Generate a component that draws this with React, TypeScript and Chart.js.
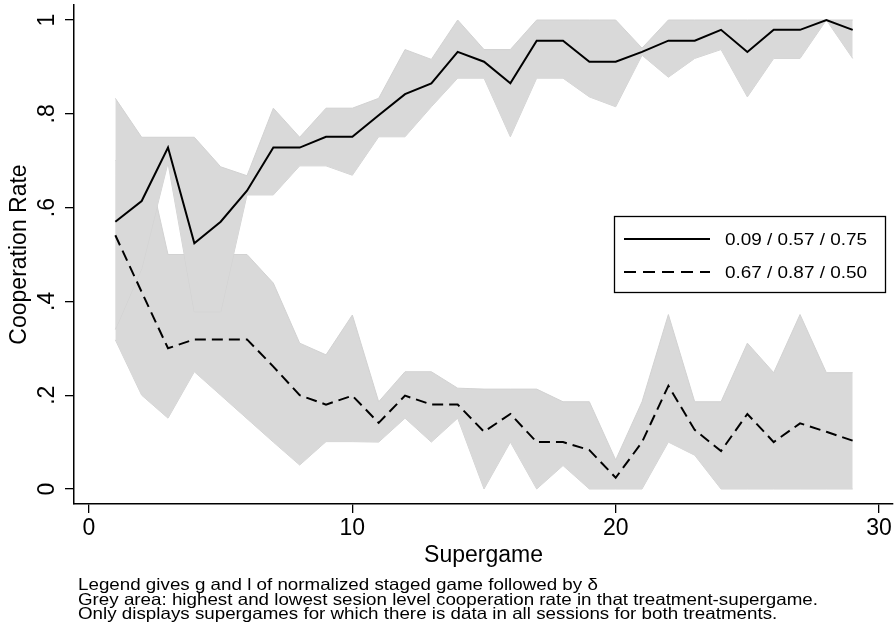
import React, { useEffect, useRef } from 'react';
import { Chart, registerables } from 'chart.js';

Chart.register(...registerables);

const supergames = [1, 2, 3, 4, 5, 6, 7, 8, 9, 10, 11, 12, 13, 14, 15, 16, 17, 18, 19, 20, 21, 22, 23, 24, 25, 26, 27, 28, 29];

const solidMean = [0.570, 0.614, 0.728, 0.524, 0.570, 0.636, 0.728, 0.728, 0.751, 0.751, 0.797, 0.842, 0.865, 0.932, 0.911, 0.865, 0.956, 0.956, 0.911, 0.911, 0.932, 0.956, 0.956, 0.979, 0.932, 0.979, 0.979, 1.0, 0.979];
const solidMax = [0.833, 0.75, 0.75, 0.75, 0.687, 0.668, 0.812, 0.75, 0.812, 0.812, 0.833, 0.937, 0.916, 1.0, 0.937, 0.937, 1.0, 1.0, 1.0, 1.0, 0.94, 1.0, 1.0, 1.0, 1.0, 1.0, 1.0, 1.0, 1.0];
const solidMin = [0.34, 0.47, 0.695, 0.378, 0.378, 0.627, 0.627, 0.689, 0.689, 0.669, 0.751, 0.751, 0.815, 0.876, 0.876, 0.751, 0.876, 0.876, 0.836, 0.815, 0.925, 0.878, 0.918, 0.937, 0.836, 0.918, 0.918, 1.0, 0.918];

const dashedMean = [0.541, 0.42, 0.30, 0.319, 0.319, 0.319, 0.261, 0.2, 0.18, 0.199, 0.141, 0.199, 0.18, 0.18, 0.122, 0.16, 0.1, 0.1, 0.083, 0.024, 0.1, 0.22, 0.126, 0.081, 0.16, 0.1, 0.14, 0.122, 0.103];
const dashedMax = [0.70, 0.75, 0.5, 0.5, 0.5, 0.5, 0.439, 0.311, 0.286, 0.371, 0.186, 0.25, 0.25, 0.215, 0.213, 0.213, 0.213, 0.186, 0.186, 0.062, 0.186, 0.372, 0.186, 0.186, 0.311, 0.248, 0.372, 0.248, 0.248];
const dashedMin = [0.318, 0.2, 0.151, 0.25, 0.2, 0.15, 0.1, 0.051, 0.101, 0.101, 0.1, 0.151, 0.1, 0.151, 0.0, 0.1, 0.0, 0.05, 0.0, 0.0, 0.0, 0.1, 0.072, 0.0, 0.0, 0.0, 0.0, 0.0, 0.0];

const xTicks = [0, 10, 20, 30];
const yTicks = [0, 0.2, 0.4, 0.6, 0.8, 1];
const yTickLabels = ['0', '.2', '.4', '.6', '.8', '1'];

const legendLabels = ['0.09 / 0.57 / 0.75', '0.67 / 0.87 / 0.50'];
const xTitle = 'Supergame';
const yTitle = 'Cooperation Rate';
const noteLines = [
  'Legend gives g and l of normalized staged game followed by δ',
  'Grey area: highest and lowest sesion level cooperation rate in that treatment-supergame.',
  'Only displays supergames for which there is data in all sessions for both treatments.',
];

const FONT = '"Liberation Sans", Arial, Helvetica, sans-serif';
const BAND_FILL = 'rgb(217,217,217)';
const BAND_EDGE = 'rgb(210,210,210)';

const toPoints = (ys: number[]) => supergames.map((x, i) => ({ x, y: ys[i] }));

const drawStretched = (ctx: CanvasRenderingContext2D, text: string, x: number, y: number, sx: number) => {
  ctx.save();
  ctx.translate(x, y);
  ctx.scale(sx, 1);
  ctx.fillText(text, 0, 0);
  ctx.restore();
};

const overlayPlugin = {
  id: 'overlay',
  afterDraw(chart: any) {
    const ctx = chart.ctx as CanvasRenderingContext2D;
    ctx.save();
    // legend box
    const bx = 614, by = 216, bw = 271, bh = 76;
    ctx.strokeStyle = '#000';
    ctx.lineWidth = 1.3;
    ctx.setLineDash([]);
    ctx.strokeRect(bx + 0.5, by + 0.5, bw, bh);
    const rows = [239, 272];
    ctx.lineWidth = 2;
    ctx.beginPath();
    ctx.moveTo(624, rows[0]);
    ctx.lineTo(710, rows[0]);
    ctx.stroke();
    ctx.setLineDash([12, 7]);
    ctx.beginPath();
    ctx.moveTo(624, rows[1]);
    ctx.lineTo(710, rows[1]);
    ctx.stroke();
    ctx.setLineDash([]);
    ctx.fillStyle = '#000';
    ctx.font = `17px ${FONT}`;
    ctx.textBaseline = 'middle';
    ctx.textAlign = 'left';
    const lw = ctx.measureText(legendLabels[0]).width;
    const lsx = 142 / lw;
    legendLabels.forEach((t, i) => drawStretched(ctx, t, 725, rows[i] + 1, lsx));

    // notes
    ctx.font = `16.5px ${FONT}`;
    ctx.textBaseline = 'alphabetic';
    const w1 = ctx.measureText(noteLines[1]).width;
    const sx = 740 / w1;
    const baselines = [590, 604.5, 619];
    noteLines.forEach((t, i) => drawStretched(ctx, t, 78, baselines[i], sx));
    ctx.restore();
  },
};

export default function App() {
  const ref = useRef<HTMLCanvasElement | null>(null);

  useEffect(() => {
    if (!ref.current) return;
    const chart = new Chart(ref.current, {
      type: 'line',
      data: {
        datasets: [
          {
            label: legendLabels[0],
            data: toPoints(solidMean),
            borderColor: '#000',
            borderWidth: 2,
            pointRadius: 0,
            fill: false,
            tension: 0,
          },
          {
            label: legendLabels[1],
            data: toPoints(dashedMean),
            borderColor: '#000',
            borderWidth: 2,
            borderDash: [11, 6],
            pointRadius: 0,
            fill: false,
            tension: 0,
          },
          {
            label: 'solid max',
            data: toPoints(solidMax),
            borderColor: BAND_EDGE,
            borderWidth: 1,
            backgroundColor: BAND_FILL,
            pointRadius: 0,
            fill: '+1',
          },
          {
            label: 'solid min',
            data: toPoints(solidMin),
            borderColor: BAND_EDGE,
            borderWidth: 1,
            pointRadius: 0,
            fill: false,
          },
          {
            label: 'dashed max',
            data: toPoints(dashedMax),
            borderColor: BAND_EDGE,
            borderWidth: 1,
            backgroundColor: BAND_FILL,
            pointRadius: 0,
            fill: '+1',
          },
          {
            label: 'dashed min',
            data: toPoints(dashedMin),
            borderColor: BAND_EDGE,
            borderWidth: 1,
            pointRadius: 0,
            fill: false,
          },
        ],
      },
      options: {
        animation: false,
        responsive: false,
        maintainAspectRatio: false,
        layout: { padding: { top: 5, right: 3, bottom: 0, left: 0 } },
        plugins: {
          legend: { display: false },
          tooltip: { enabled: false },
        },
        scales: {
          x: {
            type: 'linear',
            min: -0.5696,
            max: 30.53,
            afterBuildTicks: (s: any) => {
              s.ticks = xTicks.map((v) => ({ value: v }));
            },
            afterFit: (s: any) => {
              s.height = 130;
              s.paddingLeft = 0;
              s.paddingRight = 0;
            },
            grid: {
              display: true,
              drawOnChartArea: false,
              drawTicks: true,
              tickLength: 9,
              color: '#000',
              lineWidth: 1.3,
            },
            border: { display: true, color: '#000', width: 1.5 },
            ticks: {
              color: '#000',
              font: { size: 23, family: FONT },
              padding: 2,
              autoSkip: false,
              maxRotation: 0,
              minRotation: 0,
              callback: (v: any) => String(v),
            },
            title: {
              display: true,
              text: xTitle,
              color: '#000',
              font: { size: 23, family: FONT },
              padding: { top: 0, bottom: 65 },
            },
          },
          y: {
            type: 'linear',
            min: -0.032,
            max: 1.032,
            afterBuildTicks: (s: any) => {
              s.ticks = yTicks.map((v) => ({ value: v }));
            },
            afterFit: (s: any) => {
              s.width = 74;
              s.paddingTop = 0;
              s.paddingBottom = 0;
            },
            grid: {
              display: true,
              drawOnChartArea: false,
              drawTicks: true,
              tickLength: 9,
              color: '#000',
              lineWidth: 1.3,
            },
            border: { display: true, color: '#000', width: 1.5 },
            ticks: {
              color: '#000',
              font: { size: 23, family: FONT },
              padding: 8,
              autoSkip: false,
              minRotation: 90,
              maxRotation: 90,
              crossAlign: 'center',
              callback: (v: any) => {
                const i = yTicks.findIndex((t) => Math.abs(t - Number(v)) < 1e-6);
                return i >= 0 ? yTickLabels[i] : '';
              },
            },
            title: {
              display: true,
              text: yTitle,
              color: '#000',
              font: { size: 23, family: FONT },
              padding: { top: 6, bottom: 0 },
            },
          },
        },
      } as any,
      plugins: [overlayPlugin],
    });
    return () => chart.destroy();
  }, []);

  return (
    <div style={{ position: 'absolute', left: 0, top: 0, width: 896, height: 634, background: '#fff' }}>
      <canvas ref={ref} width={896} height={634} style={{ display: 'block', width: 896, height: 634 }} />
    </div>
  );
}
